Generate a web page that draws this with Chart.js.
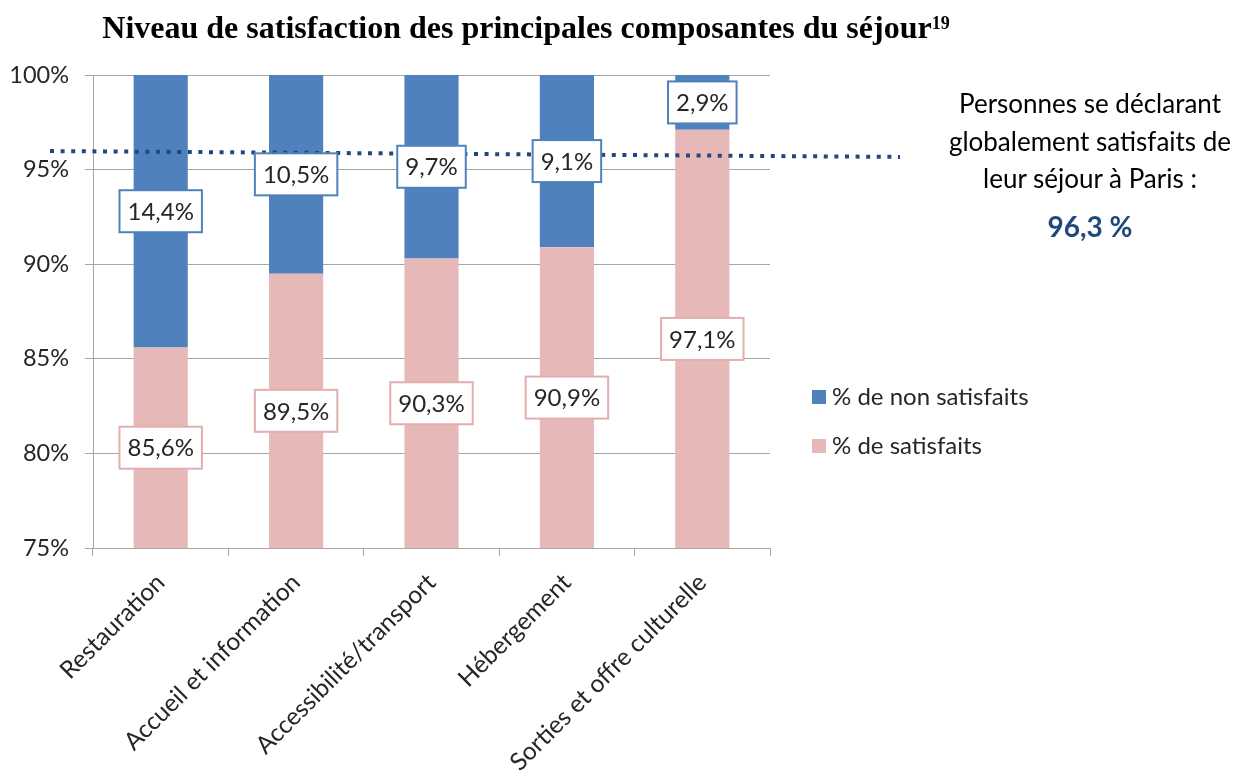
<!DOCTYPE html>
<html>
<head>
<meta charset="utf-8">
<script src="https://cdn.jsdelivr.net/npm/chart.js@4"></script>
<style>
  html, body { margin: 0; padding: 0; background: #fff; overflow: hidden; }
  #wrap { position: relative; width: 1242px; height: 770px; }
  #title {
    position: absolute; left: 0; top: 9px; width: 1052px; text-align: center;
    font-family: "Liberation Serif", serif; font-weight: bold; font-size: 32px; color: #000;
  }
  #title sup { font-size: 18px; vertical-align: 9px; }
  #note {
    position: absolute; left: 930px; top: 85px; width: 320px; text-align: center;
    font-family: Lato, sans-serif; font-size: 26px; line-height: 37.5px; color: #000;
  }
  #note b { color: #1F497D; font-size: 28px; line-height: 56px; }
</style>
</head>
<body>
<div id="wrap">
  <canvas id="satisfactionChart" width="1242" height="770"></canvas>
  <div id="title">Niveau de satisfaction des principales composantes du séjour<sup>19</sup></div>
  <div id="note">Personnes se déclarant<br>globalement satisfaits de<br>leur séjour à Paris :<br><b>96,3 %</b></div>
</div>
<script>
// ---------- Data ---------- //
const categories = ["Restauration", "Accueil et information", "Accessibilité/transport", "Hébergement", "Sorties et offre culturelle"];
const satisfaits = [85.6, 89.5, 90.3, 90.9, 97.1];
const nonSatisfaits = [14.4, 10.5, 9.7, 9.1, 2.9];
const yTicks = [75, 80, 85, 90, 95, 100];
const globalLine = [95.98, 95.67]; // dotted line, left end / right end

const blue = "#4F81BD";
const pink = "#E6B9B8";
const fontFamily = "Lato, 'Open Sans', sans-serif";

const fmt = (v) => v.toFixed(1).replace(".", ",") + "%";

// dotted line + value boxes
const overlayPlugin = {
  id: "overlay",
  afterDatasetsDraw(chart) {
    const ctx = chart.ctx;
    const y = chart.scales.y;
    const area = chart.chartArea;

    // dotted "global satisfaction" line
    ctx.save();
    ctx.strokeStyle = "#1F497D";
    ctx.lineWidth = 4;
    ctx.setLineDash([4, 6.6]);
    ctx.beginPath();
    ctx.moveTo(50, y.getPixelForValue(globalLine[0]));
    ctx.lineTo(900, y.getPixelForValue(globalLine[1]));
    ctx.stroke();
    ctx.restore();

    // labels centred in the visible part of each segment
    ctx.save();
    ctx.font = "24px " + fontFamily;
    ctx.textAlign = "center";
    ctx.textBaseline = "middle";
    chart.data.datasets.forEach((ds, di) => {
      const meta = chart.getDatasetMeta(di);
      meta.data.forEach((bar, i) => {
        const top = Math.max(Math.min(bar.y, bar.base), area.top);
        const bottom = Math.min(Math.max(bar.y, bar.base), area.bottom);
        const cy = (top + bottom) / 2;
        const text = fmt(ds.data[i]);
        const w = ctx.measureText(text).width + 16;
        const h = 42;
        ctx.fillStyle = "#fff";
        ctx.fillRect(bar.x - w / 2, cy - h / 2, w, h);
        ctx.lineWidth = 2;
        ctx.strokeStyle = ds.labelBorder;
        ctx.strokeRect(bar.x - w / 2, cy - h / 2, w, h);
        ctx.fillStyle = "#262626";
        ctx.fillText(text, bar.x, cy + 1);
      });
    });
    ctx.restore();
  },
  afterDraw(chart) {
    // legend on the right, non satisfaits on top
    const ctx = chart.ctx;
    const area = chart.chartArea;
    const items = chart.data.datasets.slice().reverse();
    ctx.save();
    ctx.font = "24px " + fontFamily;
    ctx.textBaseline = "middle";
    items.forEach((ds, k) => {
      const ly = area.top + 322 + k * 49;
      ctx.fillStyle = ds.backgroundColor;
      ctx.fillRect(area.right + 42, ly - 7, 14, 14);
      ctx.fillStyle = "#262626";
      ctx.fillText(ds.label, area.right + 62, ly);
    });
    ctx.restore();
  }
};

const ctx = document.getElementById("satisfactionChart").getContext("2d");
const satisfactionChart = new Chart(ctx, {
  type: "bar",
  data: {
    labels: categories,
    datasets: [
      {
        label: "% de satisfaits",
        data: satisfaits,
        backgroundColor: pink,
        labelBorder: "#E2AFAE",
        barPercentage: 0.4,
        categoryPercentage: 1,
      },
      {
        label: "% de non satisfaits",
        data: nonSatisfaits,
        backgroundColor: blue,
        labelBorder: blue,
        barPercentage: 0.4,
        categoryPercentage: 1,
      },
    ],
  },
  options: {
    responsive: false,
    animation: false,
    layout: { padding: { top: 75, right: 472, left: 0, bottom: 0 } },
    plugins: {
      legend: { display: false },
      tooltip: { enabled: false },
      title: { display: false },
    },
    scales: {
      x: {
        stacked: true,
        grid: { display: true, drawOnChartArea: false, drawTicks: true, tickLength: 8, color: "#A6A6A6", offset: true },
        border: { color: "#A6A6A6", width: 1 },
        ticks: {
          color: "#262626",
          font: { family: fontFamily, size: 24.5 },
          minRotation: 45,
          maxRotation: 45,
          autoSkip: false,
          padding: 12,
        },
        afterFit: (scale) => { scale.height = 222; },
      },
      y: {
        stacked: true,
        min: yTicks[0],
        max: yTicks[yTicks.length - 1],
        afterBuildTicks: (scale) => { scale.ticks = yTicks.map((v) => ({ value: v })); },
        grid: { color: "#A6A6A6", tickLength: 8, lineWidth: 1 },
        border: { color: "#A6A6A6", width: 1 },
        ticks: {
          color: "#262626",
          font: { family: fontFamily, size: 23.5 },
          padding: 16,
          callback: (v) => v + "%",
        },
        afterFit: (scale) => { scale.width = 93; },
      },
    },
  },
  plugins: [overlayPlugin],
});
</script>
</body>
</html>
